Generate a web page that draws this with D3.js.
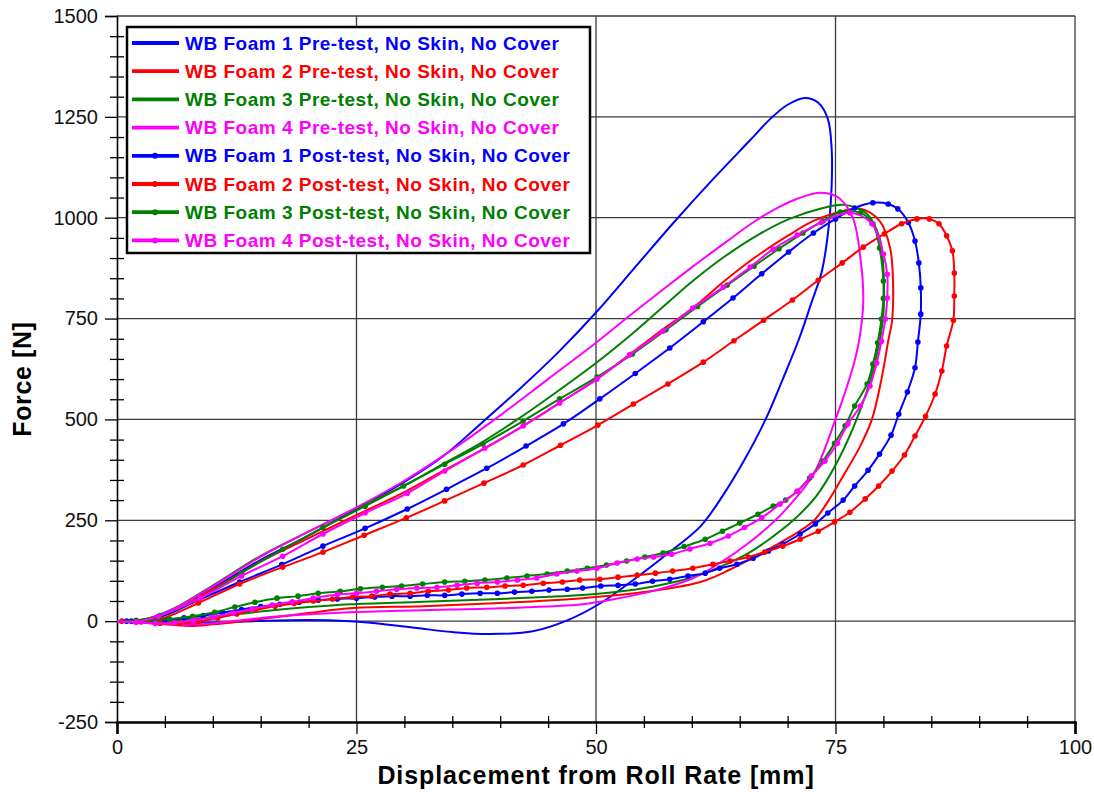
<!DOCTYPE html>
<html>
<head>
<meta charset="utf-8">
<script src="https://cdn.jsdelivr.net/npm/d3@7"></script>
<style>
  body { margin: 0; background: #fff; }
  svg { display: block; font-family: "Liberation Sans", Arial, sans-serif; }
</style>
</head>
<body>
<div id="chart"></div>
<script>
// ---- data (displacement mm, force N) ----
const seriesNames = [
  "WB Foam 1 Pre-test, No Skin, No Cover",
  "WB Foam 2 Pre-test, No Skin, No Cover",
  "WB Foam 3 Pre-test, No Skin, No Cover",
  "WB Foam 4 Pre-test, No Skin, No Cover",
  "WB Foam 1 Post-test, No Skin, No Cover",
  "WB Foam 2 Post-test, No Skin, No Cover",
  "WB Foam 3 Post-test, No Skin, No Cover",
  "WB Foam 4 Post-test, No Skin, No Cover"
];

const xTicks = [0, 25, 50, 75, 100];
const yTicks = [-250, 0, 250, 500, 750, 1000, 1250, 1500];

const foam1Pre = [[0,0],[3,4],[6,28],[9,68],[12,110],[15,152],[20,212],[25,278],[30,345],[34,408],[38,490],[42,575],[46,665],[50,765],[54,875],[58,985],[62,1090],[66,1190],[68.2,1245],[70,1280],[71.8,1297],[73.2,1285],[74.2,1245],[74.6,1170],[74.6,1080],[74.3,980],[73.6,870],[72.5,790],[71.2,700],[69.5,600],[67.7,500],[65.5,400],[63.2,310],[60.9,235],[57.4,166],[54,104],[50.5,45],[47,2],[43.4,-25],[38.9,-32],[35,-27],[31.3,-17],[27,-5],[24.3,0],[20,3],[14.2,0],[9,-4],[5,-3],[2,-1],[0,0]];

const foam2Pre = [[0,0],[3,3],[6,26],[9,66],[12,106],[15,148],[20,206],[25,263],[30,320],[34,372],[38.4,428],[42.4,484],[46.2,541],[50.1,600],[53.2,655],[56.5,715],[60.1,776],[63.5,845],[67.1,910],[70,955],[72.7,992],[75.2,1013],[77.6,1022],[79.6,992],[80.7,925],[81,843],[80.9,744],[80.5,694],[79.8,600],[78.8,500],[77.5,430],[75.8,360],[74.3,300],[72.7,248],[70,205],[67,165],[64,128],[60.9,97],[55,72],[48.6,57],[40,45],[32,37],[24.3,32],[20,20],[15,5],[10,-8],[7.6,-12],[4,-6],[0,0]];

const foam3Pre = [[0,0],[3,5],[6,32],[9,74],[12,118],[15,162],[20,222],[25,280],[30,336],[34,389],[38,442],[41.8,500],[46,570],[50,640],[53.5,707],[56.8,775],[60.1,843],[63.5,905],[67.1,960],[70.2,997],[73.4,1022],[75.8,1032],[78.3,1009],[79.6,950],[80,876],[80,761],[79.6,694],[78.8,610],[77.2,500],[75.3,400],[73,310],[70.5,248],[68.2,205],[66,170],[63,135],[60,108],[56,86],[52,72],[48.6,65],[40,55],[32,48],[24.3,42],[20,35],[15,24],[10,10],[5,1],[0,0]];

const foam4Pre = [[0,0],[3,5],[6,31],[9,72],[12,116],[15,160],[20,222],[25,282],[30,348],[35,425],[40,510],[45,600],[50,690],[53.5,757],[57,822],[60,877],[63.7,942],[66.5,990],[68.9,1024],[71,1047],[73.4,1062],[75.3,1050],[76.8,1000],[77.6,900],[77.9,794],[77.5,700],[76.8,628],[75,500],[72.7,364],[70.6,298],[68.5,245],[66,195],[63,145],[60,105],[56,75],[52,55],[48.6,42],[40,32],[32,27],[24.3,22],[20,17],[16,10],[12,0],[8,-8],[4,-5],[0,0]];

const foam1Post = [[0,0],[1.5,0],[4.5,10],[8.5,52],[12.8,97],[17.2,140],[21.5,186],[25.9,230],[30.3,278],[34.4,327],[38.6,379],[42.7,434],[46.6,489],[50.4,551],[54.1,614],[57.7,677],[61.2,742],[64.3,801],[67.3,861],[70.1,915],[72.7,962],[75,997],[77,1024],[78.9,1037],[80.5,1034],[81.5,1022],[82.6,988],[83.3,942],[83.7,888],[83.9,826],[83.9,761],[83.6,692],[83.3,628],[82.5,568],[81.6,513],[80.8,461],[79.6,414],[78.4,374],[77,335],[75.8,300],[74.2,268],[72.9,241],[71.3,216],[69.5,191],[68,174],[66.4,156],[64.7,141],[62.9,131],[61.4,119],[59.6,112],[57.7,104],[55.9,99],[54.1,92],[52.3,89],[50.5,87],[48.6,82],[47,79],[45.1,77],[43.3,74],[41.5,72],[39.7,69],[37.9,69],[36,67],[34.2,64],[32.4,64],[30.6,62],[28.7,62],[26.9,60],[25,57],[23,55],[21,52],[19,47],[17,42],[15,36],[13,29],[11,21],[9,14],[7,8],[5,3],[3,0],[1,0],[0,0]];

const foam2Post = [[0,0],[2,-1],[4.5,5],[8.5,45],[12.8,92],[17.3,134],[21.5,171],[25.8,213],[30.2,256],[34.2,298],[38.3,342],[42.4,387],[46.3,436],[50.2,486],[53.9,538],[57.5,588],[61.2,642],[64.4,695],[67.5,746],[70.5,796],[73.2,845],[75.7,888],[77.9,927],[80.1,960],[81.9,985],[83.5,997],[84.8,997],[85.8,985],[86.6,955],[87.2,918],[87.4,863],[87.4,806],[87.3,746],[86.6,682],[86.1,620],[85.4,563],[84.4,508],[83.3,459],[82.2,412],[80.9,372],[79.5,335],[78.1,303],[76.5,270],[74.9,246],[73.2,223],[71.3,203],[69.5,186],[67.6,171],[65.9,159],[64,149],[62.2,141],[60.1,131],[58,124],[56.2,119],[54.3,114],[52.3,109],[50.4,104],[48.3,102],[46.5,97],[44.5,94],[42.4,89],[40.5,87],[38.6,84],[36.5,82],[34.6,77],[32.5,74],[30.6,69],[28.5,67],[26.6,62],[24.6,60],[22.5,55],[20.5,50],[18.5,44],[16.5,37],[14.5,28],[12.5,18],[10.5,8],[8.5,0],[6.5,-5],[4.5,-5],[2.5,-2],[0.5,0],[0,0]];

const foam3Post = [[0,0],[2,2],[4.5,14],[8.7,57],[13,120],[17.3,178],[21.5,232],[25.9,285],[29.9,335],[34.2,389],[38.2,439],[42.4,496],[46.2,551],[50.1,605],[53.8,662],[57.3,722],[60.6,780],[63.7,833],[66.5,880],[69.1,923],[71.6,962],[73.7,992],[75.5,1014],[77.6,1012],[78.9,985],[79.6,925],[80,843],[80,800],[79.8,749],[79.4,690],[78.9,637],[78.3,588],[77,533],[76,484],[74.9,441],[73.7,397],[72.3,355],[71,322],[69.8,300],[68.5,285],[66.9,265],[65,243],[63.2,223],[61.4,203],[59.2,185],[57,169],[55.1,159],[53.2,149],[51.1,139],[49.1,131],[47,124],[44.9,117],[42.8,112],[40.7,107],[38.4,102],[36.3,99],[34.2,97],[31.9,92],[29.7,87],[27.7,84],[25.4,80],[23.3,74],[21,69],[18.9,62],[16.7,57],[14.4,47],[12.3,35],[10.2,22],[7.9,12],[5.5,5],[3,1],[0,0]];

const foam4Post = [[0,0],[2,-2],[4.3,12],[8.7,57],[13,112],[17.3,161],[21.5,216],[25.9,268],[30.3,317],[34.2,372],[38.4,429],[42.4,484],[46.2,541],[50.1,600],[53.5,660],[57,719],[60.1,776],[63.3,828],[66.1,878],[68.5,922],[71,957],[73.5,988],[76.5,1012],[78.8,985],[80,910],[80.4,860],[80.4,801],[80.2,749],[79.8,694],[79.3,640],[78.6,583],[77.6,533],[76.3,489],[75.2,441],[73.9,397],[72.5,360],[71,322],[69.2,290],[67.3,256],[65.5,232],[63.8,211],[61.9,193],[59.8,179],[57.9,166],[56,159],[54.3,154],[52.2,144],[50.1,131],[48,124],[45.9,117],[43.8,107],[41.8,102],[39.7,97],[37.6,94],[35.5,89],[33.4,84],[31.3,82],[29.2,79],[27.1,74],[25,69],[23,66],[20.5,57],[18.3,48],[16.2,40],[14.1,30],[12.1,20],[10,10],[8,2],[6,-4],[4,-6],[2,-3],[0,0]];

// ---- layout ----
const width = 1094, height = 792;
const plot = { left: 117, right: 1075, top: 16, bottom: 722 };

const colors = ["#0000ff", "#ff0000", "#008000", "#ff00ff", "#0000ff", "#ff0000", "#008000", "#ff00ff"];
const allData = [foam1Pre, foam2Pre, foam3Pre, foam4Pre, foam1Post, foam2Post, foam3Post, foam4Post];
const series = seriesNames.map((name, i) => ({ name, data: allData[i], color: colors[i], marker: i >= 4 }));

const svg = d3.select("#chart").append("svg")
  .attr("width", width)
  .attr("height", height);

const x = d3.scaleLinear().domain([0, 100]).range([plot.left, plot.right]);
const y = d3.scaleLinear().domain([-250, 1500]).range([plot.bottom, plot.top]);

// grid
const grid = svg.append("g");
grid.selectAll(".gx").data(xTicks.slice(1)).enter().append("line")
  .attr("x1", d => x(d)).attr("x2", d => x(d))
  .attr("y1", plot.top).attr("y2", plot.bottom)
  .attr("stroke", "#3a3a3a").attr("stroke-width", 1.3);
grid.selectAll(".gy").data(yTicks.slice(1)).enter().append("line")
  .attr("x1", plot.left).attr("x2", plot.right)
  .attr("y1", d => y(d)).attr("y2", d => y(d))
  .attr("stroke", "#3a3a3a").attr("stroke-width", 1.3);

// minor ticks (crossing the axis lines)
const yMinor = d3.range(-250, 1501, 50).filter(v => v % 250 !== 0);
const xMinor = d3.range(0, 101, 5).filter(v => v % 25 !== 0);

svg.append("g")
  .attr("transform", `translate(${plot.left + 7},0)`)
  .call(d3.axisLeft(y).tickValues(yMinor).tickSize(14).tickFormat(""))
  .call(g => g.select(".domain").remove())
  .selectAll("line").attr("stroke", "#000").attr("stroke-width", 1.3);

svg.append("g")
  .attr("transform", `translate(0,${plot.bottom - 6})`)
  .call(d3.axisBottom(x).tickValues(xMinor).tickSize(12).tickFormat(""))
  .call(g => g.select(".domain").remove())
  .selectAll("line").attr("stroke", "#000").attr("stroke-width", 1.3);

// major axes
const yAxis = svg.append("g")
  .attr("transform", `translate(${plot.left},0)`)
  .call(d3.axisLeft(y).tickValues(yTicks).tickSize(12).tickPadding(7).tickFormat(d => String(d)));
yAxis.select(".domain").attr("stroke", "#000").attr("stroke-width", 1.6);
yAxis.selectAll("line").attr("stroke", "#000").attr("stroke-width", 1.3);
yAxis.selectAll("text").style("font-size", "20px").attr("fill", "#111");

const xAxis = svg.append("g")
  .attr("transform", `translate(0,${plot.bottom})`)
  .call(d3.axisBottom(x).tickValues(xTicks).tickSize(12).tickPadding(6).tickFormat(d => String(d)));
xAxis.select(".domain").attr("stroke", "#000").attr("stroke-width", 2.6);
xAxis.selectAll("line").attr("stroke", "#000").attr("stroke-width", 1.3);
xAxis.selectAll("text").style("font-size", "20px").attr("fill", "#111");

// curves
const line = d3.line()
  .x(d => x(d[0]))
  .y(d => y(d[1]))
  .curve(d3.curveCatmullRom.alpha(0.5));

series.forEach((s) => {
  svg.append("path")
    .datum(s.data)
    .attr("fill", "none")
    .attr("stroke", s.color)
    .attr("stroke-width", 2)
    .attr("d", line);
  if (s.marker) {
    svg.append("g").selectAll("circle")
      .data(s.data.slice(1, -1))
      .enter().append("circle")
      .attr("cx", d => x(d[0]))
      .attr("cy", d => y(d[1]))
      .attr("r", 2.8)
      .attr("fill", s.color);
  }
});

// legend
const legend = svg.append("g");
legend.append("rect")
  .attr("x", 127).attr("y", 27)
  .attr("width", 463).attr("height", 226)
  .attr("fill", "#fff").attr("stroke", "#000").attr("stroke-width", 2.5);

series.forEach((s, i) => {
  const ly = 43 + i * 28.2;
  legend.append("line")
    .attr("x1", 132).attr("x2", 179)
    .attr("y1", ly).attr("y2", ly)
    .attr("stroke", s.color).attr("stroke-width", 3.8);
  if (s.marker) {
    legend.append("circle").attr("cx", 155).attr("cy", ly).attr("r", 3).attr("fill", s.color);
  }
  legend.append("text")
    .attr("x", 185).attr("y", ly + 6.5)
    .attr("fill", s.color)
    .style("font-size", "19px")
    .style("font-weight", "bold")
    .style("letter-spacing", "0.5px")
    .text(s.name);
});

// axis titles
svg.append("text")
  .attr("x", 596)
  .attr("y", 784)
  .attr("text-anchor", "middle")
  .style("font-size", "25px")
  .style("font-weight", "bold")
  .style("letter-spacing", "0.9px")
  .text("Displacement from Roll Rate [mm]");

svg.append("text")
  .attr("transform", `translate(31,${y(600)}) rotate(-90)`)
  .attr("text-anchor", "middle")
  .style("font-size", "25px")
  .style("font-weight", "bold")
  .style("letter-spacing", "0.6px")
  .text("Force [N]");
</script>
</body>
</html>
